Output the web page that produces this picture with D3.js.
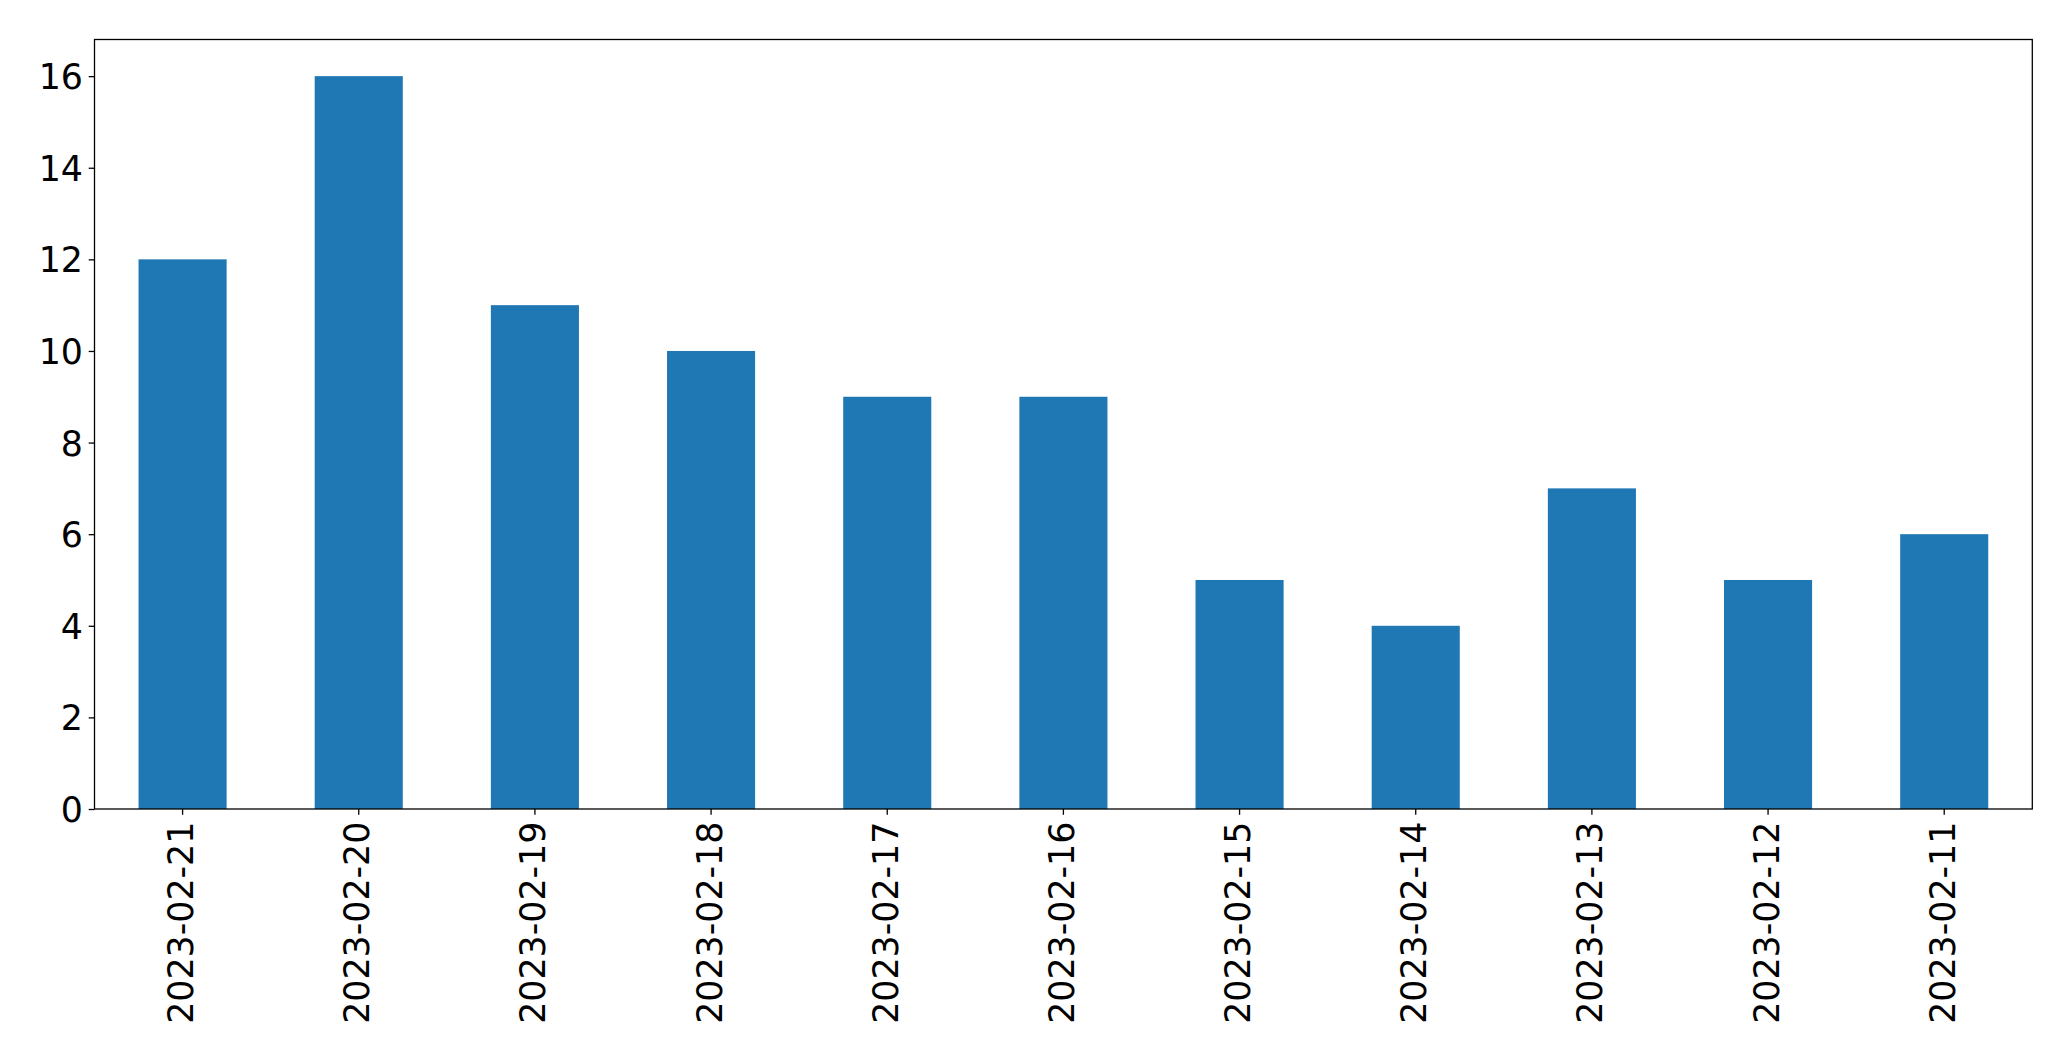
<!DOCTYPE html>
<html>
<head>
<meta charset="utf-8">
<script src="https://cdn.jsdelivr.net/npm/d3@7"></script>
<style>
  html, body { margin: 0; padding: 0; background: #fff; }
  svg { display: block; }
  text { font-family: "DejaVu Sans", sans-serif; fill: #000; }
</style>
</head>
<body>
<svg id="chart" width="2071" height="1061"></svg>
<script>
const categories = ["2023-02-21","2023-02-20","2023-02-19","2023-02-18","2023-02-17","2023-02-16","2023-02-15","2023-02-14","2023-02-13","2023-02-12","2023-02-11"];
const values = [12, 16, 11, 10, 9, 9, 5, 4, 7, 5, 6];
const yTicks = [0, 2, 4, 6, 8, 10, 12, 14, 16];

const W = 2071, H = 1061;
const margin = { left: 94.5, right: W - 2032.3, top: 39.5, bottom: H - 809 };
const svg = d3.select("#chart");
const iw = W - margin.left - margin.right;
const ih = H - margin.top - margin.bottom;
const g = svg.append("g").attr("transform", `translate(${margin.left},${margin.top})`);

const x = d3.scaleBand().domain(categories).range([0, iw]).paddingInner(0.5).paddingOuter(0.25);
const y = d3.scaleLinear().domain([0, 16.8]).range([ih, 0]);

g.selectAll("rect.bar").data(values).enter().append("rect")
  .attr("class", "bar")
  .attr("x", (d, i) => x(categories[i]))
  .attr("width", x.bandwidth())
  .attr("y", d => y(d))
  .attr("height", d => y(0) - y(d))
  .attr("fill", "#1f77b4");

const fontSize = 34.8;
const tickLen = 5.8, tickPad = 5.8;

const yAxis = g.append("g").call(d3.axisLeft(y).tickValues(yTicks).tickFormat(d3.format("d")).tickSize(tickLen).tickPadding(tickPad));
yAxis.select(".domain").remove();
yAxis.selectAll("line").attr("stroke", "#000").attr("stroke-width", 1.3);
yAxis.selectAll("text").style("font-size", fontSize + "px").attr("dy", "0.36em");

const xAxis = g.append("g").attr("transform", `translate(0,${ih})`)
  .call(d3.axisBottom(x).tickSize(tickLen).tickPadding(tickPad));
xAxis.select(".domain").remove();
xAxis.selectAll("line").attr("stroke", "#000").attr("stroke-width", 1.3);
xAxis.selectAll("text")
  .style("font-size", fontSize + "px")
  .attr("text-anchor", "end")
  .attr("y", 0)
  .attr("transform", `translate(0,${tickLen + tickPad + 1}) rotate(-90)`)
  .attr("dy", "0.30em")
  .attr("x", 0);

// frame
g.append("rect").attr("x", 0).attr("y", 0).attr("width", iw).attr("height", ih)
  .attr("fill", "none").attr("stroke", "#000").attr("stroke-width", 1.3);
</script>
</body>
</html>
